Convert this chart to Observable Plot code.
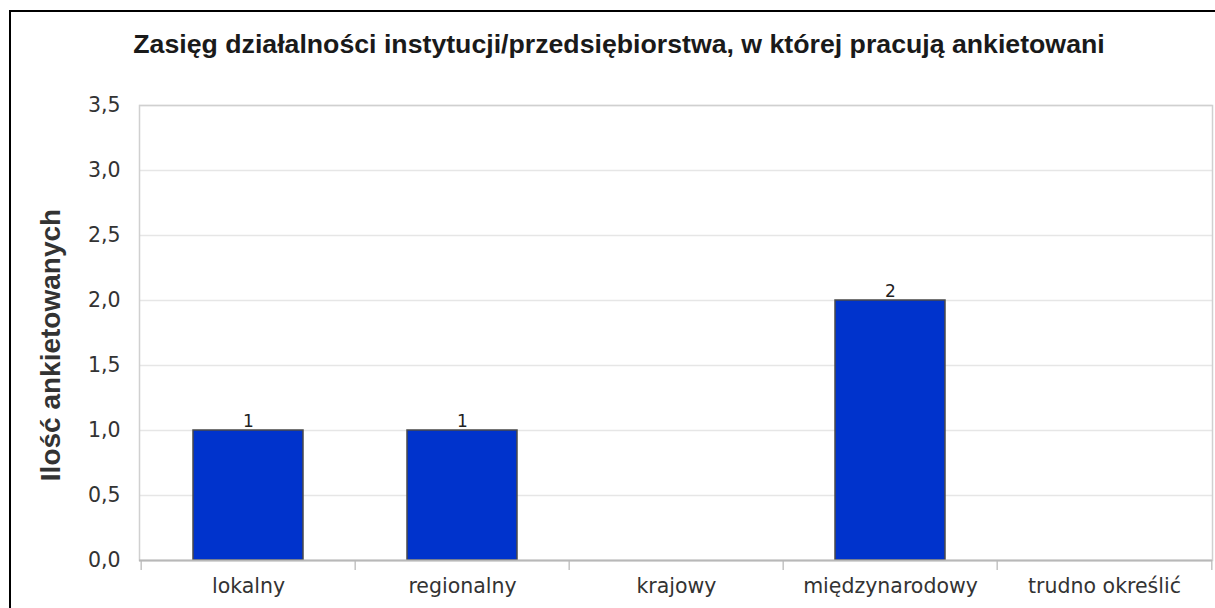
<!DOCTYPE html>
<html>
<head>
<meta charset="utf-8">
<script src="https://cdn.jsdelivr.net/npm/d3@7"></script>
<script src="https://cdn.jsdelivr.net/npm/@observablehq/plot@0.6"></script>
<style>
  html, body { margin: 0; padding: 0; background: #fff; overflow: hidden; width: 1215px; height: 608px; }
  #border { position: absolute; left: 9px; top: 10px; width: 1400px; height: 800px; border: 2px solid #000; box-sizing: border-box; }
  #wrap { position: absolute; left: 0; top: 0; width: 1215px; }
  #title { height: 80px; position: relative; }
  #title span { position: absolute; top: 31px; left: 0; width: 1215px; padding-left: 23px; box-sizing: border-box; text-align: center;
    font-family: "Liberation Sans", Arial, sans-serif; font-weight: bold; font-size: 26.7px; line-height: 27px; color: #1a1a1a; white-space: nowrap; }
  #chart svg { display: block; }
</style>
</head>
<body>
<div id="border"></div>
<div id="wrap">
  <div id="title"><span></span></div>
  <div id="chart"></div>
</div>
<script>
const titleText = "Zasięg działalności instytucji/przedsiębiorstwa, w której pracują ankietowani";
const yLabel = "Ilość ankietowanych";
const categories = ["lokalny", "regionalny", "krajowy", "międzynarodowy", "trudno określić"];
const values = [1, 1, 0, 2, 0];
const yTicks = [0, 0.5, 1, 1.5, 2, 2.5, 3, 3.5];
const yTickLabels = ["0,0", "0,5", "1,0", "1,5", "2,0", "2,5", "3,0", "3,5"];

const data = categories.map((c, i) => ({category: c, value: values[i]}));

document.querySelector("#title span").textContent = titleText;

const W = 1215, H = 528, mL = 139, mR = 3, mT = 25, mB = 48;
const bw = (W - mL - mR) / categories.length;

const chart = Plot.plot({
  width: W,
  height: H,
  marginLeft: mL,
  marginRight: mR,
  marginTop: mT,
  marginBottom: mB,
  style: {fontFamily: "DejaVu Sans", fontSize: "20.5px", color: "#333", background: "transparent", overflow: "visible"},
  x: {domain: categories, padding: 0, axis: null, label: null},
  y: {domain: [0, 3.5], axis: null, label: null},
  marks: [
    Plot.ruleY(yTicks.slice(1), {stroke: "#e6e6e6", strokeWidth: 1.5}),
    Plot.frame({stroke: "#d0d0d0", strokeWidth: 1.5}),
    Plot.axisX({ticks: categories, tickSize: 10, dx: -bw / 2, fill: "none", stroke: "#c4c4c4", strokeWidth: 1.5, label: null}),
    Plot.axisX({ticks: [categories[categories.length - 1]], tickSize: 10, dx: bw / 2, fill: "none", stroke: "#c4c4c4", strokeWidth: 1.5, label: null}),
    Plot.axisX({ticks: categories, tickSize: 0, tickPadding: 18, fill: "#333", label: null}),
    Plot.axisY({ticks: yTicks, tickSize: 0, tickPadding: 19, fill: "#333", tickFormat: (d) => yTickLabels[yTicks.indexOf(d)], label: null}),
    Plot.barY(data, {x: "category", y: "value", fill: "#0033cc", stroke: "#4a4a4a", strokeWidth: 1.5, insetLeft: 52, insetRight: 52}),
    Plot.ruleY([0], {stroke: "#b8b8b8", strokeWidth: 2}),
    Plot.text(data.filter((d) => d.value > 0), {x: "category", y: "value", text: (d) => String(d.value), lineAnchor: "bottom", dy: -4, fontSize: 17, fill: "#222"}),
    Plot.text([yLabel], {frameAnchor: "left", textAnchor: "middle", lineAnchor: "middle", rotate: -90, dx: -88, dy: 12, text: (d) => d, fontFamily: "Liberation Sans", fontWeight: "bold", fontSize: 28, fill: "#333"})
  ]
});
document.getElementById("chart").appendChild(chart);
</script>
</body>
</html>
